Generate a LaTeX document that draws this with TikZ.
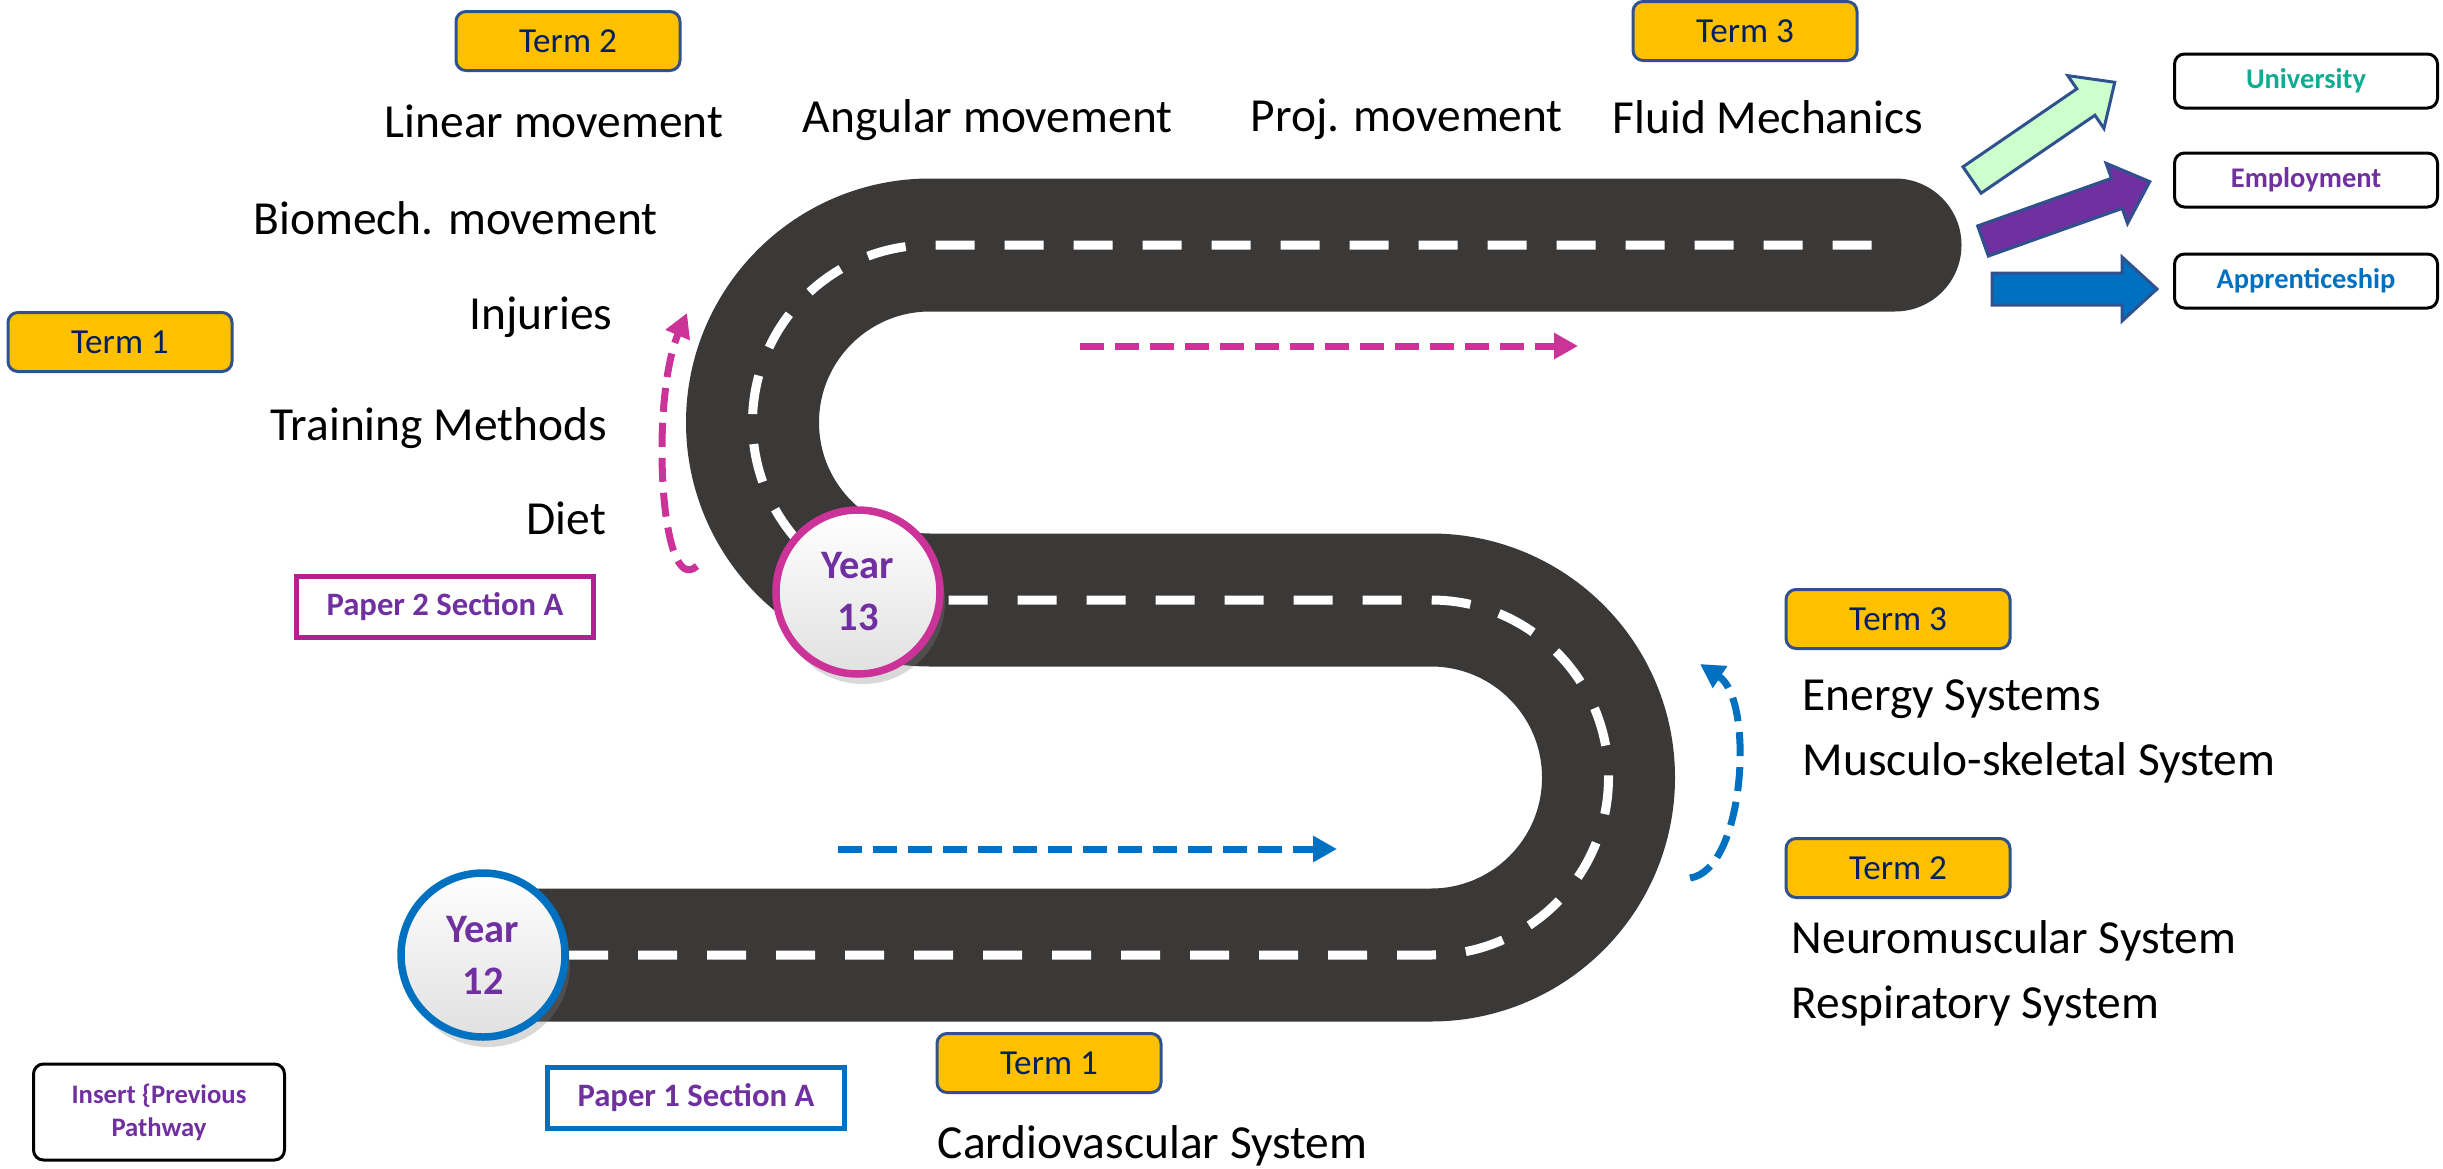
\documentclass[tikz,border=0pt]{standalone}
\usepackage{fontspec}
\setmainfont{Carlito}
\usepackage{xcolor}
\usetikzlibrary{arrows.meta, shadows}
\definecolor{roadgrey}{RGB}{59,56,56}
\definecolor{termyellow}{RGB}{255,192,0}
\definecolor{termedge}{RGB}{47,82,143}
\definecolor{termnavy}{RGB}{0,32,96}
\definecolor{pathblue}{RGB}{0,112,192}
\definecolor{pathmagenta}{RGB}{204,51,153}
\definecolor{papermagenta}{RGB}{181,31,143}
\definecolor{pathpurple}{RGB}{112,48,160}
\definecolor{uniteal}{RGB}{16,172,145}
\definecolor{mintgreen}{RGB}{204,255,204}

\begin{document}
\begin{tikzpicture}[x=0.1mm, y=-0.1mm,
    road/.style={line width=13.3mm, color=roadgrey, line cap=round},
    lane/.style={line width=0.9mm, color=white, dash pattern=on 3.9mm off 3mm},
    topic/.style={anchor=base west, inner sep=0pt, font=\fontsize{13.5}{16}\selectfont},
    termbox/.style={draw=termedge, fill=termyellow, line width=0.3mm, rounded corners=1mm,
        minimum width=22.4mm, minimum height=5.9mm, inner sep=0pt, text=termnavy,
        font=\fontsize{10}{12}\selectfont},
    yearbadge/.style={circle, minimum size=16.4mm, line width=0.75mm, inner sep=0pt,
        top color=white, bottom color=black!12, text=pathpurple, align=center,
        font=\bfseries\fontsize{11.5}{14.8}\selectfont,
        drop shadow={shadow xshift=0.5mm, shadow yshift=-1mm, opacity=0.3}},
    paperbox/.style={line width=0.5mm, minimum width=29.7mm, minimum height=6.1mm,
        inner sep=0pt, text=pathpurple, font=\bfseries\fontsize{9.3}{11}\selectfont},
    destbox/.style={draw=black, line width=0.3mm, rounded corners=1mm, minimum width=26.3mm,
        minimum height=5.4mm, inner sep=0pt, font=\bfseries\fontsize{8.1}{10}\selectfont},
    route/.style={line width=0.7mm, dash pattern=on 2.4mm off 1.1mm,
        -{Triangle[length=2.4mm, width=2.5mm]}},
    blockarrow/.pic={\draw[pic actions] (0,-16) -- (#1-35,-16) -- (#1-35,-32) -- (#1,0)
        -- (#1-35,32) -- (#1-35,16) -- (0,16) -- cycle;}]
    \useasboundingbox (0,0) rectangle (2443,1168);

    % Road
    \draw[road] (500,955) -- (1431,955) arc[start angle=90, end angle=-90, radius=177.5]
        -- (930,600) arc[start angle=90, end angle=270, radius=177.5] -- (1895,245);
    \draw[lane] (500,955) -- (1431,955) arc[start angle=90, end angle=-90, radius=177.5]
        -- (930,600) arc[start angle=90, end angle=270, radius=177.5] -- (1895,245);

    % Year badges
    \node[yearbadge, draw=pathblue] (year12) at (483,955) {Year\\12};
    \node[yearbadge, draw=pathmagenta] (year13) at (858,592) {Year\\13};

    % Year 12 topics
    \node[termbox] (y12term1) at (1049,1063) {Term 1};
    \node[topic] (cardio) at (937,1158) {Cardiovascular System};
    \node[termbox] (y12term2) at (1898,868) {Term 2};
    \node[topic] (neuro) at (1791,953) {Neuromuscular System};
    \node[topic] (resp) at (1791,1018) {Respiratory System};
    \node[termbox] (y12term3) at (1898,619) {Term 3};
    \node[topic] (energy) at (1802,710) {Energy Systems};
    \node[topic] (musculo) at (1802,775) {Musculo-skeletal System};

    % Year 13 topics
    \node[termbox] (y13term1) at (120,342) {Term 1};
    \node[topic] (diet) at (526,534) {Diet};
    \node[topic] (training) at (270,440) {Training Methods};
    \node[topic] (injuries) at (469,329) {Injuries};
    \node[topic] (biomech) at (253,234) {Biomech. movement};
    \node[termbox] (y13term2) at (568,41) {Term 2};
    \node[topic] (linear) at (384,137) {Linear movement};
    \node[topic] (angular) at (802,132) {Angular movement};
    \node[topic] (proj) at (1250,131) {Proj. movement};
    \node[termbox] (y13term3) at (1745,31) {Term 3};
    \node[topic] (fluid) at (1612,133) {Fluid Mechanics};

    % Exam papers
    \node[paperbox, draw=pathblue] (paper1) at (696,1098) {Paper 1 Section A};
    \node[paperbox, draw=papermagenta] (paper2) at (445,607) {Paper 2 Section A};
    \node[destbox, text=pathpurple, minimum width=25.1mm, minimum height=9.6mm, align=center,
        font=\bfseries\fontsize{7.6}{9.4}\selectfont] (previous) at (159,1112)
        {Insert \{Previous\\Pathway};

    % Direction of travel
    \coordinate (flow12a) at (838,849);
    \coordinate (flow12b) at (1337,849);
    \coordinate (turn12a) at (1690,878);
    \coordinate (turn12b) at (1700,664);
    \coordinate (turn13a) at (697,566);
    \coordinate (turn13b) at (687,313);
    \coordinate (flow13a) at (1080,346);
    \coordinate (flow13b) at (1578,346);
    \draw[route, pathblue] (flow12a) -- (flow12b);
    \draw[route, pathblue] (turn12a) .. controls (1745,870) and (1755,700) .. (turn12b);
    \draw[route, pathmagenta] (turn13a) .. controls (660,600) and (650,400) .. (turn13b);
    \draw[route, pathmagenta] (flow13a) -- (flow13b);

    % Destinations
    \pic[rotate=34.4, fill=mintgreen, draw=termedge, line width=0.3mm] at (1972,180) {blockarrow=173};
    \pic[rotate=19.6, fill=pathpurple, draw=termedge, line width=0.3mm] at (1983,241) {blockarrow=177};
    \pic[fill=pathblue, draw=termedge, line width=0.3mm] at (1992,289) {blockarrow=165};
    \node[destbox, text=uniteal] (university) at (2306,81) {University};
    \node[destbox, text=pathpurple] (employment) at (2306,180) {Employment};
    \node[destbox, text=pathblue] (apprentice) at (2306,281) {Apprenticeship};
\end{tikzpicture}
\end{document}
